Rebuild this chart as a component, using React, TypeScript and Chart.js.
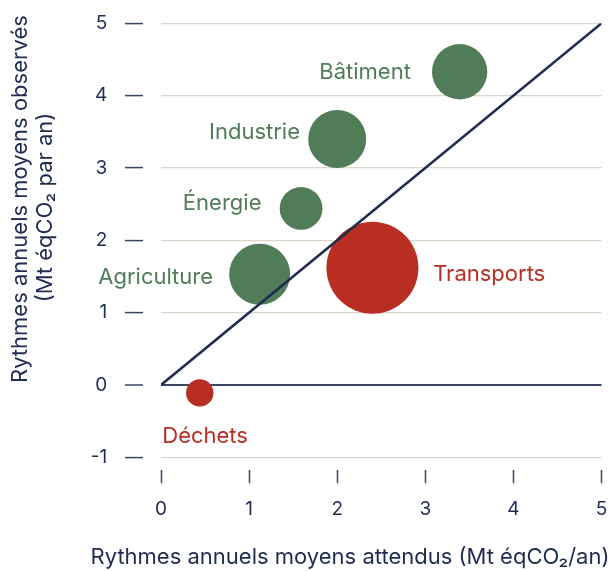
import React, { useEffect, useRef } from "react";
import { Chart, registerables } from "chart.js";

Chart.register(...registerables);

// ---- data ----
const sectors = ["Bâtiment", "Industrie", "Énergie", "Agriculture", "Transports", "Déchets"];
const expectedRate = [3.39, 2.0, 1.59, 1.12, 2.4, 0.44]; // Mt éqCO2/an attendus
const observedRate = [4.33, 3.4, 2.44, 1.53, 1.62, -0.11]; // Mt éqCO2/an observés
const bubbleSize = [27.7, 29, 21.4, 30.5, 46, 13.7];
const xTickValues = [0, 1, 2, 3, 4, 5];
const yTickValues = [-1, 0, 1, 2, 3, 4, 5];
const parityLine = [
  { x: 0, y: 0 },
  { x: 5, y: 5 },
];
const xTitle = "Rythmes annuels moyens attendus (Mt éqCO₂/an)";
const yTitleLines = ["Rythmes annuels moyens observés", "(Mt éqCO₂ par an)"];

// ---- styles ----
const NAVY = "#1f2b50";
const TICK_NAVY = "#3a4566";
const GRID = "#d9d6ca";
const GREEN = "#507c58";
const RED = "#b82e22";
const FONT = "Inter";
// label placement relative to bubble centre (pixels)
const labelPlacement = [
  { align: "right", dx: -48.8, dy: 6.8 },
  { align: "right", dx: -37.2, dy: 0.2 },
  { align: "right", dx: -39.6, dy: 1.6 },
  { align: "right", dx: -46.6, dy: 10.2 },
  { align: "left", dx: 60.7, dy: 13.7 },
  { align: "left", dx: -37.5, dy: 50 },
];

const noPad = (s: any) => {
  s.paddingTop = 0;
  s.paddingBottom = 0;
  s.paddingLeft = 0;
  s.paddingRight = 0;
};

export default function App() {
  const ref = useRef<HTMLCanvasElement>(null);

  useEffect(() => {
    document.body.style.margin = "0";
    const canvas = ref.current!;
    const colors = sectors.map((_, i) => (observedRate[i] >= expectedRate[i] ? GREEN : RED));

    const labelPlugin = {
      id: "bubbleLabels",
      afterDatasetsDraw(chart: any) {
        const meta = chart.getDatasetMeta(1);
        const ctx = chart.ctx;
        ctx.save();
        ctx.font = `22px ${FONT}`;
        ctx.textBaseline = "alphabetic";
        meta.data.forEach((el: any, i: number) => {
          const p = labelPlacement[i];
          ctx.fillStyle = colors[i];
          ctx.textAlign = p.align;
          ctx.fillText(sectors[i], el.x + p.dx, el.y + p.dy);
        });
        ctx.restore();
      },
    };

    const titlePlugin = {
      id: "axisTitles",
      afterDraw(chart: any) {
        const ctx = chart.ctx;
        ctx.save();
        ctx.fillStyle = NAVY;
        ctx.font = `22px ${FONT}`;
        ctx.textAlign = "center";
        ctx.textBaseline = "middle";
        ctx.fillText(xTitle, 350, 557);
        const xs = [20, 45.5];
        const ys = [199, 207.5];
        yTitleLines.forEach((line, i) => {
          ctx.save();
          ctx.translate(xs[i], ys[i]);
          ctx.rotate(-Math.PI / 2);
          ctx.fillText(line, 0, 0);
          ctx.restore();
        });
        ctx.restore();
      },
    };

    const chart = new Chart(canvas, {
      type: "bubble",
      data: {
        datasets: [
          {
            type: "line",
            label: "Parité",
            data: parityLine,
            borderColor: NAVY,
            borderWidth: 2.5,
            pointRadius: 0,
            fill: false,
            order: 0,
          } as any,
          {
            type: "bubble",
            label: "Secteurs",
            data: sectors.map((_, i) => ({ x: expectedRate[i], y: observedRate[i], r: bubbleSize[i] })),
            backgroundColor: colors,
            borderWidth: 0,
            hoverRadius: 0,
            clip: false,
            order: 1,
          },
        ],
      },
      options: {
        responsive: false,
        animation: false,
        layout: { autoPadding: false, padding: { left: 60, right: 14.5, top: 23.3, bottom: 0 } },
        plugins: { legend: { display: false }, tooltip: { enabled: false } },
        scales: {
          x: {
            type: "linear",
            axis: "x",
            position: "bottom",
            weight: 1,
            min: 0,
            max: 5,
            afterBuildTicks: (s: any) => {
              s.ticks = xTickValues.map((v) => ({ value: v }));
            },
            ticks: { color: NAVY, font: { family: FONT, size: 19 }, padding: 15, maxRotation: 0 },
            grid: {
              display: true,
              drawOnChartArea: false,
              drawTicks: true,
              tickLength: 13,
              tickColor: TICK_NAVY,
              tickWidth: 1.5,
            },
            border: { display: false },
            afterFit: (s: any) => {
              s.height = 100.7;
              noPad(s);
            },
          },
          xGap: {
            type: "linear",
            axis: "x",
            position: "bottom",
            weight: 0,
            min: 0,
            max: 5,
            ticks: { display: false },
            grid: { display: false },
            border: { display: false },
            afterFit: (s: any) => {
              s.height = 13;
              noPad(s);
            },
          },
          y: {
            type: "linear",
            axis: "y",
            position: "left",
            weight: 1,
            min: -1,
            max: 5,
            afterBuildTicks: (s: any) => {
              s.ticks = yTickValues.map((v) => ({ value: v }));
            },
            ticks: { color: NAVY, font: { family: FONT, size: 19 }, padding: 17.7 },
            grid: {
              display: true,
              drawOnChartArea: true,
              drawTicks: true,
              tickLength: 18,
              color: (c: any) => (c.tick && c.tick.value === 0 ? TICK_NAVY : GRID),
              lineWidth: (c: any) => (c.tick && c.tick.value === 0 ? 2 : 1.2),
              tickColor: TICK_NAVY,
              tickWidth: 1.5,
            },
            border: { display: false },
            afterFit: (s: any) => {
              s.width = 83;
              noPad(s);
            },
          },
          yGap: {
            type: "linear",
            axis: "y",
            position: "left",
            weight: 0,
            min: -1,
            max: 5,
            ticks: { display: false },
            grid: { display: false },
            border: { display: false },
            afterFit: (s: any) => {
              s.width = 18;
              noPad(s);
            },
          },
        },
      } as any,
      plugins: [labelPlugin, titlePlugin],
    });
    return () => chart.destroy();
  }, []);

  return <canvas ref={ref} width={616} height={571} style={{ display: "block" }} />;
}
